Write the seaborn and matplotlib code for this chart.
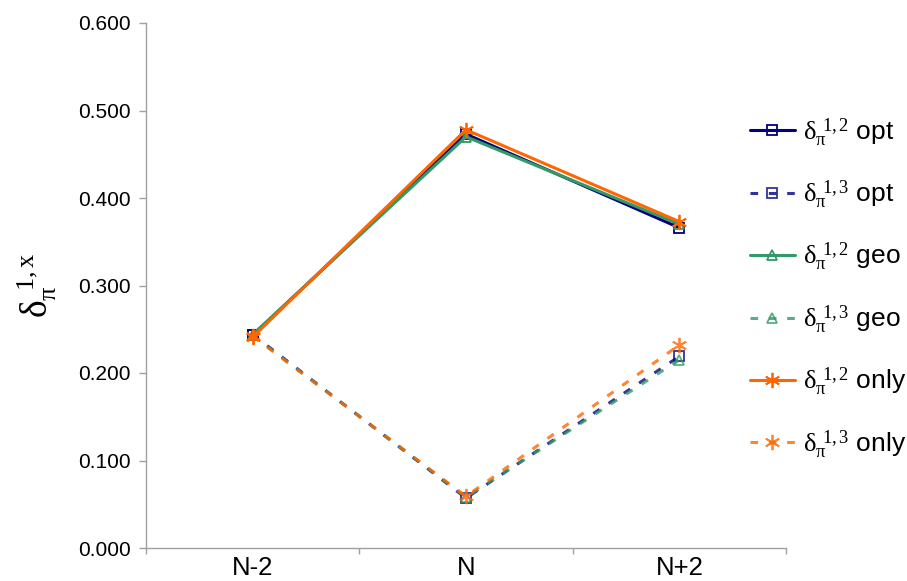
import matplotlib
matplotlib.use("Agg")
import matplotlib.pyplot as plt
from matplotlib.ticker import FixedLocator
import seaborn as sns
import pandas as pd

categories = ["N-2", "N", "N+2"]

opt_12 = [0.243, 0.473, 0.366]
opt_13 = [0.244, 0.057, 0.219]
geo_12 = [0.244, 0.470, 0.370]
geo_13 = [0.243, 0.058, 0.215]
only_12 = [0.241, 0.478, 0.373]
only_13 = [0.242, 0.059, 0.232]

series_labels = [
    r"$\delta_{\pi}^{\ 1,2}$ opt",
    r"$\delta_{\pi}^{\ 1,3}$ opt",
    r"$\delta_{\pi}^{\ 1,2}$ geo",
    r"$\delta_{\pi}^{\ 1,3}$ geo",
    r"$\delta_{\pi}^{\ 1,2}$ only",
    r"$\delta_{\pi}^{\ 1,3}$ only",
]
series_values = [opt_12, opt_13, geo_12, geo_13, only_12, only_13]

navy = "#000080"
green = "#339966"
orange = "#FF6600"
dash = (0, (2.5, 3.5))
star = (6, 2, 0)
styles = [
    dict(color=navy, ls="-", marker="s", ms=7, alpha=1.0),
    dict(color=navy, ls=dash, marker="s", ms=7, alpha=0.8),
    dict(color=green, ls="-", marker="^", ms=7, alpha=1.0),
    dict(color=green, ls=dash, marker="^", ms=7, alpha=0.8),
    dict(color=orange, ls="-", marker=star, ms=11, alpha=1.0),
    dict(color=orange, ls=dash, marker=star, ms=11, alpha=0.8),
]

sns.set_theme(style="white")
plt.rcParams["font.family"] = ["Liberation Sans", "DejaVu Sans"]
plt.rcParams["mathtext.fontset"] = "custom"
plt.rcParams["mathtext.rm"] = "Liberation Serif"
plt.rcParams["mathtext.it"] = "Liberation Serif"
plt.rcParams["mathtext.bf"] = "Liberation Serif:bold"
plt.rcParams["text.color"] = "black"
plt.rcParams["xtick.color"] = "black"
plt.rcParams["ytick.color"] = "black"
plt.rcParams["axes.labelcolor"] = "black"

fig = plt.figure(figsize=(9.07, 5.81), dpi=100)
ax = fig.add_axes([146 / 907, 1 - 548 / 581, (786 - 146) / 907, (548 - 23) / 581])

xpos = list(range(len(categories)))
for label, vals, st in zip(series_labels, series_values, styles):
    df = pd.DataFrame({"x": xpos, "y": vals})
    sns.lineplot(
        data=df, x="x", y="y", ax=ax, color=st["color"], linestyle=st["ls"],
        linewidth=2.2, marker=st["marker"], markersize=st["ms"],
        markerfacecolor="none" if st["marker"] in ("s", "^") else st["color"],
        markeredgecolor=st["color"], markeredgewidth=1.3,
        label=label, alpha=st["alpha"],
    )

ax.set_xlim(-0.5, 2.5)
ax.set_ylim(0, 0.6)
ax.set_xticks(xpos)
ax.set_xticklabels(categories, fontsize=18.5)
ax.xaxis.set_minor_locator(FixedLocator([-0.5, 0.5, 1.5, 2.5]))
ax.tick_params(axis="x", which="major", length=0, pad=6)
ax.tick_params(axis="x", which="minor", length=4, color="#a0a0a0", width=1,
               direction="out", bottom=True)
yt = [0, 0.1, 0.2, 0.3, 0.4, 0.5, 0.6]
ax.set_yticks(yt)
ax.set_yticklabels([f"{v:.3f}" for v in yt], fontsize=15)
ax.tick_params(axis="y", length=5, color="#a0a0a0", width=1, direction="out",
               left=True, pad=6)
ax.set_xlabel("")
ax.set_ylabel(r"$\delta_{\pi}^{\ 1,x}$", fontsize=27, labelpad=14)

for side in ("top", "right"):
    ax.spines[side].set_visible(False)
for side in ("left", "bottom"):
    ax.spines[side].set_color("#a0a0a0")
    ax.spines[side].set_linewidth(1)

ax.patch.set_alpha(0)

leg = ax.legend(
    loc="upper left", bbox_to_anchor=(750 / 907, 1 - 116 / 581),
    bbox_transform=fig.transFigure, frameon=False, fontsize=19,
    borderpad=0, borderaxespad=0,
    handlelength=1.7, handletextpad=0.3, labelspacing=1.13,
)

fig.savefig("out.png", dpi=100)
